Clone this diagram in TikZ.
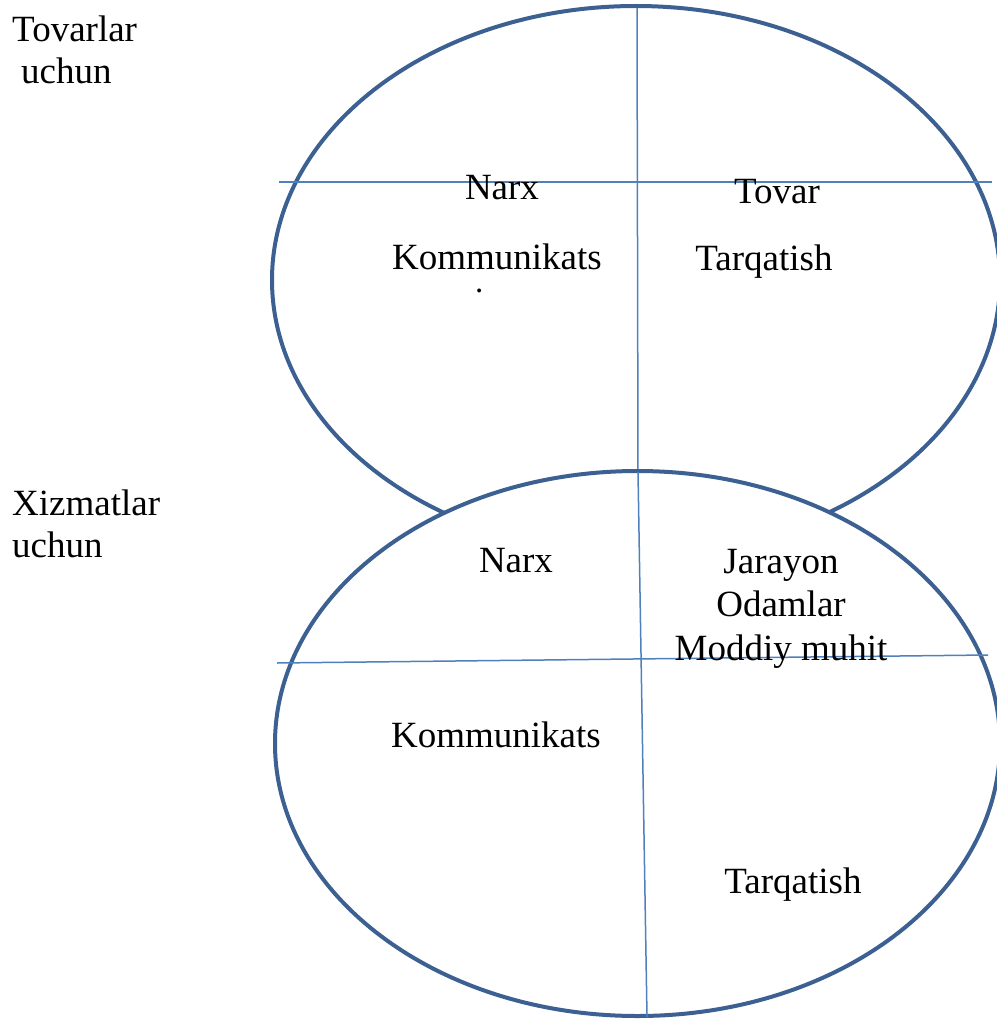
\documentclass[tikz,border=0pt]{standalone}
\usepackage{fontspec}
\setmainfont{Liberation Serif}
\definecolor{ringblue}{RGB}{60,96,145}
\definecolor{lineblue}{RGB}{79,129,189}
\begin{document}
\begin{tikzpicture}[x=1pt,y=-1pt,
  ring/.style={draw=ringblue,line width=4pt},
  divider/.style={draw=lineblue,line width=1.5pt},
  lbl/.style={inner sep=0pt,anchor=base,font=\fontsize{37}{44}\selectfont,align=center},
  side/.style={inner sep=0pt,anchor=base west,font=\fontsize{37}{44}\selectfont}]
\useasboundingbox (0,0) rectangle (996,1019);
% top ellipse (goods)
\draw[ring] (636,280) ellipse [x radius=364,y radius=274];
\coordinate (th1) at (279,182);
\coordinate (th2) at (992,182);
\coordinate (tv1) at (637,8);
\coordinate (tv2) at (638,474);
\draw[divider] (th1) -- (th2);
\draw[divider] (tv1) -- (tv2);
\node[lbl] (narx1) at (502,200) {Narx};
\node[lbl] (komm1) at (497,269) {Kommunikats};
\begin{scope}
  \clip (380,275) rectangle (620,292);
  \node[lbl] (komm1b) at (497,313) {iya};
\end{scope}
\node[lbl] (tovar) at (777,204) {Tovar};
\node[lbl] (tarq1) at (764,270) {Tarqatish};
% bottom ellipse (services)
\draw[ring,fill=white] (637.5,743.5) ellipse [x radius=362.5,y radius=272.5];
\coordinate (bh1) at (277,663);
\coordinate (bh2) at (988,655);
\coordinate (bv1) at (638,472);
\coordinate (bv2) at (647,1017);
\draw[divider] (bh1) -- (bh2);
\draw[divider] (bv1) -- (bv2);
\node[lbl] (narx2) at (516,572) {Narx};
\node[lbl] (jar) at (781,573) {Jarayon};
\node[lbl] (odam) at (781,616) {Odamlar};
\node[lbl] (modd) at (781,660) {Moddiy muhit};
\node[lbl] (komm2) at (496,747) {Kommunikats};
\node[lbl] (tarq2) at (793,893) {Tarqatish};
% side labels
\node[side] (tov) at (12,42) {Tovarlar};
\node[side] (uch1) at (21,84) {uchun};
\node[side] (xiz) at (12,515) {Xizmatlar};
\node[side] (uch2) at (12,557) {uchun};
\end{tikzpicture}
\end{document}
